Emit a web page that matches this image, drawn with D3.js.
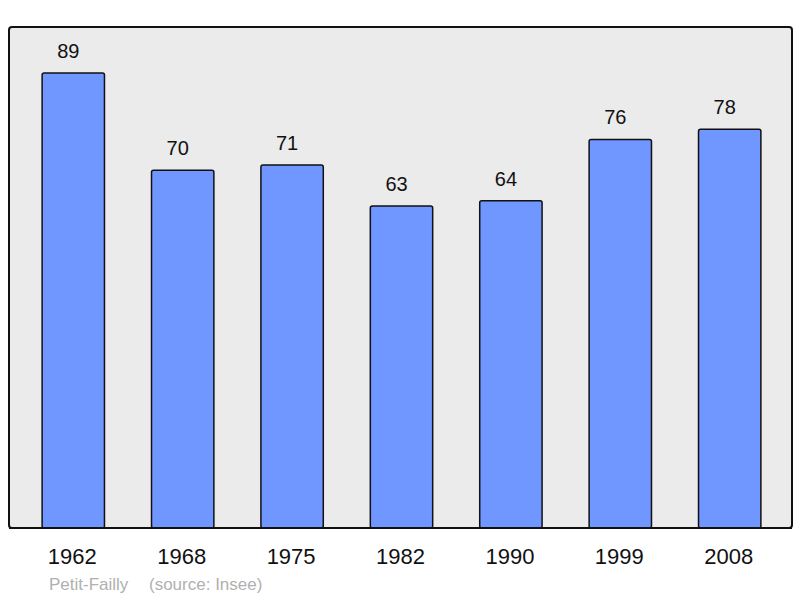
<!DOCTYPE html>
<html><head><meta charset="utf-8">
<script src="https://cdn.jsdelivr.net/npm/d3@7"></script>
<style>html,body{margin:0;padding:0;background:#fff;}svg{display:block;font-family:"Liberation Sans",Arial,sans-serif;}</style>
</head><body>
<script>
const years = ["1962","1968","1975","1982","1990","1999","2008"];
const population = [89,70,71,63,64,76,78];
const townName = "Petit-Failly";
const sourceText = "(source: Insee)";

const W = 800, H = 598;
const panel = {x0: 9, y0: 27, x1: 792, y1: 528};
const svg = d3.select("body").append("svg").attr("width", W).attr("height", H);

svg.append("rect").attr("x", panel.x0).attr("y", panel.y0)
  .attr("width", panel.x1 - panel.x0).attr("height", panel.y1 - panel.y0)
  .attr("rx", 3).attr("fill", "#ebebeb").attr("stroke", "#111").attr("stroke-width", 2);

const x = d3.scaleBand().domain(years).range([10.5, 792.5]).paddingInner(0.43).paddingOuter(0.289);
const y = d3.scaleLinear().domain([0, 98]).range([panel.y1, panel.y0]);

svg.selectAll("rect.bar").data(years).enter().append("rect").attr("class","bar")
  .attr("x", d => x(d)).attr("width", x.bandwidth())
  .attr("y", (d,i) => y(population[i])).attr("height", (d,i) => y(0) - y(population[i]))
  .attr("rx", 2).attr("fill", "#7096ff").attr("stroke", "#111").attr("stroke-width", 1.5);

svg.selectAll("text.val").data(years).enter().append("text").attr("class","val")
  .attr("x", d => x(d) + x.bandwidth()/2 - 5).attr("y", (d,i) => y(population[i]) - 15)
  .attr("text-anchor","middle").attr("font-size", 20).attr("fill","#111")
  .text((d,i) => population[i]);

svg.append("line").attr("x1", panel.x0).attr("x2", panel.x1).attr("y1", panel.y1).attr("y2", panel.y1)
  .attr("stroke","#111").attr("stroke-width",2);

const xAxis = d3.axisBottom(x).tickSize(0).tickPadding(0);
const gx = svg.append("g").attr("transform", `translate(0,${panel.y1})`).call(xAxis);
gx.select(".domain").remove();
gx.selectAll("text").attr("font-size", 22).attr("fill","#111")
  .attr("font-family","'Liberation Sans',Arial,sans-serif").attr("dy", null).attr("y", 36).attr("x", -1);

svg.append("text").attr("x", 49).attr("y", 590).attr("font-size", 17).attr("fill","#b0b0b0").text(townName);
svg.append("text").attr("x", 149).attr("y", 590).attr("font-size", 17).attr("fill","#b0b0b0").text(sourceText);
</script>
</body></html>
